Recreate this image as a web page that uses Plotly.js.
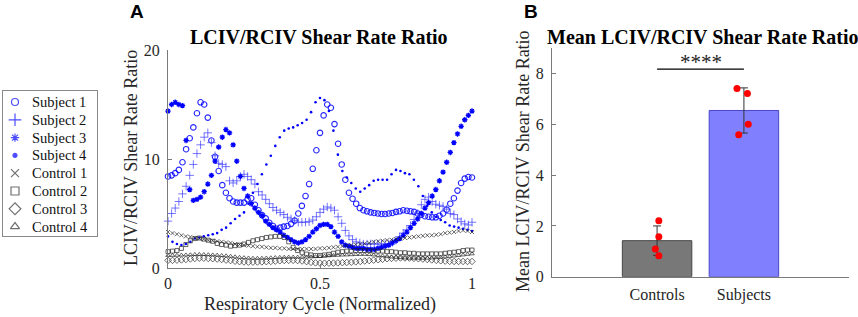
<!DOCTYPE html>
<html><head><meta charset="utf-8">
<script src="https://cdn.plot.ly/plotly-3.0.1.min.js"></script>
<style>html,body{margin:0;padding:0;background:#fff}</style>
</head><body><div id="chart" style="width:858px;height:317px"></div>
<script>
// ---------- Panel A data (LCIV/RCIV shear rate ratio over normalized respiratory cycle) ----------
const subject1 = [8.4, 8.5, 8.7, 9.0, 9.7, 10.9, 11.9, 12.9, 14.2, 15.2,
  15.0, 13.8, 11.7, 10.2, 8.9, 7.6, 6.9, 6.4, 6.1, 6.0,
  6.0, 6.0, 6.3, 6.4, 5.8, 5.3, 4.85, 4.55, 4.15, 3.85,
  3.6, 3.7, 3.8, 3.85, 4.05, 4.35, 5.0, 5.7, 6.6, 7.7,
  9.1, 10.8, 12.4, 14.0, 15.0, 14.7, 13.2, 11.4, 9.5, 8.1,
  6.9, 6.35, 5.9, 5.5, 5.3, 5.2, 5.1, 5.05, 5.0, 4.95,
  4.95, 5.0, 5.05, 5.15, 5.2, 5.3, 5.25, 5.2, 5.15, 5.0,
  4.9, 4.75, 4.7, 4.65, 4.65, 4.8, 5.0, 5.35, 5.9, 6.4,
  7.1, 7.8, 8.2, 8.35, 8.3];
const subject2 = [4.3, 5.0, 5.5, 6.1, 6.8, 7.5, 8.5, 9.5, 10.5, 11.3,
  12.0, 12.4, 11.5, 10.3, 9.6, 9.5, 9.3, 8.0, 7.8, 8.0,
  8.4, 8.6, 8.4, 8.1, 7.7, 7.0, 6.7, 6.3, 5.9, 5.55,
  5.3, 5.1, 4.9, 4.65, 4.5, 4.35, 4.2, 4.2, 4.2, 4.25,
  4.4, 4.7, 5.1, 5.4, 5.6, 5.5, 5.3, 4.7, 4.1, 3.45,
  2.95, 2.6, 2.4, 2.3, 2.2, 2.2, 2.2, 2.2, 2.2, 2.2,
  2.2, 2.2, 2.35, 2.55, 2.85, 3.2, 3.5, 3.9, 4.45, 5.0,
  5.8, 6.3, 6.5, 6.1, 5.85, 5.75, 5.65, 5.4, 5.0, 4.9,
  4.5, 4.25, 4.05, 3.95, 4.2];
const subject3 = [14.4, 15.0, 15.2, 15.0, 14.9, 11.7, 7.2, 6.2, 6.3, 6.5,
  7.0, 7.7, 8.5, 9.8, 11.1, 12.0, 12.7, 12.4, 11.3, 9.8,
  8.4, 7.3, 6.6, 5.9, 5.5, 5.1, 4.8, 4.3, 4.0, 3.7,
  3.5, 3.3, 3.0, 2.8, 2.6, 2.4, 2.3, 2.4, 2.6, 2.9,
  3.3, 3.6, 3.9, 4.0, 4.0, 3.8, 3.3, 2.9, 2.4, 2.1,
  2.0, 1.9, 1.8, 1.8, 1.8, 1.7, 1.7, 1.7, 1.8, 1.9,
  2.0, 2.1, 2.3, 2.5, 2.7, 3.0, 3.3, 3.7, 4.1, 4.5,
  5.0, 5.5, 6.0, 6.6, 7.2, 8.0, 8.8, 9.7, 10.6, 11.5,
  12.3, 13.0, 13.6, 14.0, 14.4];
const subject4 = [2.9, 2.4, 2.2, 2.1, 2.2, 2.4, 2.7, 2.8, 2.9, 3.0,
  3.1, 3.2, 3.5, 3.7, 4.1, 4.5, 4.8, 5.1, 5.9, 6.9,
  7.7, 8.6, 9.5, 10.3, 11.2, 12.0, 12.6, 12.8, 12.9, 13.1,
  13.3, 13.6, 14.3, 15.2, 15.6, 15.4, 14.4, 12.6, 10.4, 8.9,
  8.3, 7.8, 7.3, 7.0, 7.3, 7.6, 8.0, 8.1, 8.1, 8.1,
  8.6, 9.0, 8.9, 8.7, 8.6, 8.1, 7.5, 6.6, 5.7, 5.1,
  4.7, 4.4, 4.2, 3.9, 3.8, 3.7, 3.6, 3.5, 3.4];
const control1 = [3.3, 3.2, 3.1, 3.0, 2.9, 2.85, 2.75, 2.7, 2.65, 2.55,
  2.5, 2.45, 2.4, 2.35, 2.3, 2.2, 2.15, 2.1, 2.05, 2.0,
  1.95, 1.95, 1.9, 1.85, 1.85, 1.8, 1.8, 1.75, 1.75, 1.75,
  1.75, 1.75, 1.75, 1.75, 1.8, 1.8, 1.85, 1.9, 1.95, 2.0,
  2.05, 2.1, 2.15, 2.2, 2.25, 2.3, 2.4, 2.45, 2.5, 2.55,
  2.6, 2.65, 2.7, 2.75, 2.8, 2.85, 2.9, 2.95, 3.0, 3.0,
  3.05, 3.1, 3.2, 3.25, 3.3, 3.4, 3.45, 3.4, 3.3];
const control2 = [1.5, 1.55, 1.6, 1.8, 2.15, 2.5, 2.7, 2.75, 2.65, 2.55,
  2.45, 2.25, 2.15, 2.1, 2.0, 2.05, 2.1, 2.2, 2.35, 2.5,
  2.6, 2.7, 2.8, 2.85, 2.9, 2.9, 2.8, 2.4, 1.9, 1.6,
  1.4, 1.28, 1.2, 1.15, 1.15, 1.2, 1.25, 1.35, 1.45, 1.5,
  1.55, 1.55, 1.6, 1.6, 1.6, 1.6, 1.55, 1.55, 1.55, 1.5,
  1.5, 1.45, 1.4, 1.4, 1.35, 1.35, 1.3, 1.3, 1.3, 1.3,
  1.3, 1.3, 1.35, 1.4, 1.45, 1.5, 1.6, 1.65, 1.65];
const control3 = [0.7, 0.7, 0.72, 0.74, 0.78, 0.83, 0.88, 0.9, 0.9, 0.88,
  0.85, 0.82, 0.78, 0.72, 0.68, 0.62, 0.58, 0.55, 0.54, 0.54,
  0.55, 0.56, 0.58, 0.6, 0.63, 0.66, 0.69, 0.7, 0.7, 0.68,
  0.64, 0.58, 0.52, 0.47, 0.45, 0.44, 0.44, 0.45, 0.47, 0.49,
  0.51, 0.53, 0.56, 0.6, 0.64, 0.68, 0.72, 0.76, 0.8, 0.85,
  0.88, 0.9, 0.92, 0.92, 0.91, 0.88, 0.85, 0.82, 0.78, 0.74,
  0.7, 0.66, 0.63, 0.61, 0.6, 0.6, 0.6, 0.6, 0.6];
const control4 = [1.15, 1.16, 1.17, 1.19, 1.2, 1.22, 1.24, 1.25, 1.24, 1.22,
  1.2, 1.18, 1.15, 1.12, 1.08, 1.03, 0.98, 0.95, 0.92, 0.9,
  0.9, 0.9, 0.92, 0.94, 0.96, 0.98, 0.99, 1.0, 1.0, 1.0,
  1.0, 1.01, 1.02, 1.04, 1.06, 1.09, 1.12, 1.15, 1.17, 1.19,
  1.2, 1.22, 1.24, 1.25, 1.25, 1.23, 1.2, 1.16, 1.12, 1.07,
  1.02, 0.98, 0.95, 0.92, 0.9, 0.9, 0.9, 0.9, 0.91, 0.93,
  0.95, 0.98, 1.02, 1.06, 1.1, 1.15, 1.2, 1.25, 1.3];
const seriesNames = ['Subject 1', 'Subject 2', 'Subject 3', 'Subject 4',
                     'Control 1', 'Control 2', 'Control 3', 'Control 4'];
const xTicksA = [0, 0.5, 1];
const xTickLabelsA = ['0', '0.5', '1'];
const yTicksA = [0, 10, 20];

// ---------- Panel B data (mean ratio per group) ----------
const categories = ['Controls', 'Subjects'];
const categoryPos = [1, 2];
const groupMeans = [1.42, 6.55];
const groupSD = [0.58, 0.89];
const controlValues = [2.2, 1.57, 1.09, 0.83];
const controlJitter = [0.02, 0.02, -0.02, 0.02];
const subjectValues = [7.42, 7.22, 6.01, 5.59];
const subjectJitter = [-0.08, 0.04, 0.05, -0.06];
const sigLevel = 8.18;
const sigLabel = '****';
const yTicksB = [0, 2, 4, 6, 8];

// ---------- styling ----------
const serif = 'Liberation Serif, Times New Roman, serif';
const sans = 'Liberation Sans, Arial, sans-serif';
const axisGray = '#7a7a7a';
const textGray = '#262626';
const W = 858, H = 317;
const px = v => v / W, py = v => 1 - v / H;

function cycle(n) { const a = []; for (let i = 0; i < n; i++) a.push(i / (n - 1)); return a; }

const styles = [
  {sym: 'circle-open', size: 5.5, color: 'rgba(0,0,255,0.85)', lw: 1.1, lsize: 7, lcolor: 'rgb(0,0,255)'},
  {sym: 'cross-thin-open', size: 6, color: 'rgba(60,60,255,0.7)', lw: 1, lsize: 9, lcolor: 'rgb(0,0,255)'},
  {sym: 'asterisk-open', size: 4.5, color: 'rgb(0,0,255)', lw: 1.3, lsize: 7, lcolor: 'rgb(0,0,255)'},
  {sym: 'circle', size: 2.6, color: 'rgb(0,0,255)', lw: 0, lsize: 4, lcolor: 'rgb(0,0,255)'},
  {sym: 'x-thin-open', size: 4, color: 'rgba(30,30,30,0.75)', lw: 0.9, lsize: 8, lcolor: '#333'},
  {sym: 'square-open', size: 4, color: 'rgba(30,30,30,0.75)', lw: 0.9, lsize: 8, lcolor: '#333'},
  {sym: 'diamond-open', size: 5, color: 'rgba(30,30,30,0.75)', lw: 0.9, lsize: 9, lcolor: '#333'},
  {sym: 'triangle-up-open', size: 4, color: 'rgba(30,30,30,0.75)', lw: 0.9, lsize: 8, lcolor: '#333'}
];
const seriesData = [subject1, subject2, subject3, subject4, control1, control2, control3, control4];

const traces = [];
seriesData.forEach((y, k) => {
  const s = styles[k];
  traces.push({
    type: 'scatter', mode: 'markers', name: seriesNames[k], x: cycle(y.length), y: y,
    xaxis: 'x', yaxis: 'y', showlegend: false, hoverinfo: 'skip', cliponaxis: false,
    marker: {symbol: s.sym, size: s.size, color: s.color, line: {color: s.color, width: s.lw}}
  });
});

// manual legend (drawn on its own small axes, one row per series)
const legRowTop = 11, legRowStep = 17.8;
const legY = seriesNames.map((_, i) => legRowTop + i * legRowStep);
traces.push({
  type: 'scatter', mode: 'markers', x: seriesNames.map(() => 12), y: legY,
  xaxis: 'x3', yaxis: 'y3', showlegend: false, hoverinfo: 'skip', cliponaxis: false,
  marker: {symbol: styles.map(s => s.sym), size: styles.map(s => s.lsize),
           color: styles.map(s => s.lcolor), line: {color: styles.map(s => s.lcolor), width: 1.2}}
});

// Panel B
traces.push({
  type: 'bar', x: categoryPos, y: groupMeans, width: 0.8, xaxis: 'x2', yaxis: 'y2',
  showlegend: false, hoverinfo: 'skip',
  marker: {color: ['rgb(120,120,120)', 'rgb(128,128,255)'],
           line: {color: ['rgb(70,70,70)', 'rgb(70,70,200)'], width: 1}},
  error_y: {type: 'data', array: groupSD, visible: true, color: '#333', thickness: 1, width: 4}
});
traces.push({
  type: 'scatter', mode: 'markers', xaxis: 'x2', yaxis: 'y2', showlegend: false, hoverinfo: 'skip',
  x: controlJitter.map(d => categoryPos[0] + d).concat(subjectJitter.map(d => categoryPos[1] + d)),
  y: controlValues.concat(subjectValues),
  marker: {color: 'rgb(255,0,0)', size: 7}
});
traces.push({
  type: 'scatter', mode: 'lines', xaxis: 'x2', yaxis: 'y2', showlegend: false, hoverinfo: 'skip',
  x: categoryPos, y: [sigLevel, sigLevel], line: {color: '#000', width: 1.3}
});

const tickFont = {family: serif, size: 16, color: textGray};
const baseAxis = {showline: true, linecolor: axisGray, linewidth: 1, showgrid: false, zeroline: false,
                  ticks: 'inside', ticklen: 4, tickcolor: axisGray, tickfont: tickFont, fixedrange: true};

function note(text, x, y, font, extra) {
  return Object.assign({text: text, xref: 'paper', yref: 'paper', x: px(x), y: py(y),
    xanchor: 'center', yanchor: 'middle', showarrow: false, font: font}, extra || {});
}

const layout = {
  width: W, height: H, margin: {l: 0, r: 0, t: 0, b: 0},
  paper_bgcolor: '#fff', plot_bgcolor: 'rgba(0,0,0,0)', showlegend: false, hovermode: false,
  xaxis: Object.assign({}, baseAxis, {domain: [px(168), px(472)], range: [0, 1], anchor: 'y',
         tickvals: xTicksA, ticktext: xTickLabelsA, ticklabelstandoff: 1}),
  yaxis: Object.assign({}, baseAxis, {domain: [py(268), py(50)], range: [0, 20], anchor: 'x',
         tickvals: yTicksA, ticklabelstandoff: 4}),
  xaxis2: Object.assign({}, baseAxis, {domain: [px(552), px(849)], range: [-0.21, 3.21], anchor: 'y2',
         tickvals: categoryPos, ticktext: categories, ticks: '', ticklabelstandoff: 3}),
  yaxis2: Object.assign({}, baseAxis, {domain: [py(276.7), py(48.3)], range: [0, 9], anchor: 'x2',
         tickvals: yTicksB, ticklabelstandoff: 4}),
  xaxis3: {domain: [px(3), px(97)], range: [0, 94], anchor: 'y3', showline: true, mirror: true,
           linecolor: '#888', linewidth: 1, showgrid: false, zeroline: false, ticks: '', showticklabels: false, fixedrange: true},
  yaxis3: {domain: [py(236), py(91)], range: [145, 0], anchor: 'x3', showline: true, mirror: true,
           linecolor: '#888', linewidth: 1, showgrid: false, zeroline: false, ticks: '', showticklabels: false, fixedrange: true},
  annotations: [
    note('<b>A</b>', 137, 12, {family: sans, size: 19, color: '#000'}),
    note('<b>B</b>', 531, 12, {family: sans, size: 19, color: '#000'}),
    note('<b>LCIV/RCIV Shear Rate Ratio</b>', 319, 37, {family: serif, size: 20, color: '#000'}),
    note('<b>Mean LCIV/RCIV Shear Rate Ratio</b>', 702, 37, {family: serif, size: 20, color: '#000'}),
    note('Respiratory Cycle (Normalized)', 320, 304, {family: serif, size: 18, color: textGray}),
    note('LCIV/RCIV Shear Rate Ratio', 131, 158, {family: serif, size: 18, color: textGray}, {textangle: -90}),
    note('Mean LCIV/RCIV Shear Rate Ratio', 523, 161, {family: serif, size: 18, color: textGray}, {textangle: -90}),
    {text: sigLabel, xref: 'x2', yref: 'y2', x: (categoryPos[0] + categoryPos[1]) / 2, y: sigLevel,
     xanchor: 'center', yanchor: 'bottom', yshift: -7, showarrow: false, font: {family: serif, size: 21, color: '#222'}}
  ].concat(seriesNames.map((n, i) => ({
    text: n, xref: 'x3', yref: 'y3', x: 27, y: legY[i], xanchor: 'left', yanchor: 'middle',
    showarrow: false, font: {family: serif, size: 14.5, color: '#111'}
  })))
};

Plotly.newPlot('chart', traces, layout, {staticPlot: true, displayModeBar: false});
</script></body></html>
